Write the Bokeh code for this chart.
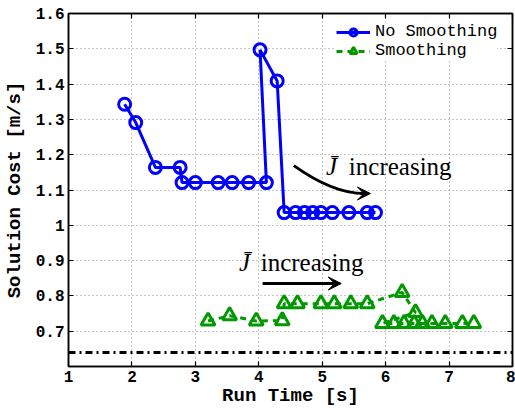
from bokeh.plotting import figure
from bokeh.models import (ColumnDataSource, LinearAxis, FixedTicker, CustomJSTickFormatter,
                          Arrow, VeeHead, Range1d, CustomLabelingPolicy)
from bokeh.core.properties import value
from bokeh.embed import file_html
from bokeh.resources import INLINE

# ---- data ----
nosmooth_time = [1.885, 2.06, 2.37, 2.76, 2.79, 3.00, 3.36, 3.58, 3.84, 4.12,
                 4.02, 4.29, 4.40, 4.58, 4.72, 4.85, 4.98, 5.16, 5.42, 5.71, 5.84]
nosmooth_cost = [1.343, 1.291, 1.164, 1.164, 1.121, 1.121, 1.121, 1.121, 1.121, 1.121,
                 1.497, 1.409, 1.036, 1.036, 1.036, 1.036, 1.036, 1.036, 1.036, 1.036, 1.036]

smooth_time = [3.20, 3.54, 3.96, 4.37, 4.40, 4.61, 4.98, 5.19, 5.45, 5.71,
               6.26, 6.47, 5.95, 6.13, 6.29, 6.45, 6.58, 6.73, 6.94, 7.21, 7.39]
smooth_cost = [0.729, 0.744, 0.729, 0.730, 0.778, 0.778, 0.778, 0.778, 0.778, 0.778,
               0.810, 0.753, 0.722, 0.722, 0.722, 0.722, 0.722, 0.722, 0.722, 0.722, 0.722]

optimal_time = [1.0, 8.0]
optimal_cost = [0.64, 0.64]

x_ticks = [1, 2, 3, 4, 5, 6, 7, 8]
y_ticks = [0.6, 0.7, 0.8, 0.9, 1.0, 1.1, 1.2, 1.3, 1.4, 1.5, 1.6]

series_labels = ["No Smoothing", "Smoothing"]
axis_labels = ["Run Time [s]", "Solution Cost [m/s]"]
annotation_texts = ["J\u0304", "increasing"]

BLUE = "#0000ff"
GREEN = "#009900"
MONO = "Liberation Mono"
SERIF = "Liberation Serif"

p = figure(width=515, height=409, output_backend="svg", toolbar_location=None,
           x_range=Range1d(1, 8), y_range=Range1d(0.6, 1.6),
           min_border_left=67, min_border_right=3, min_border_top=13, min_border_bottom=43,
           background_fill_color="white", border_fill_color="white")

p.outline_line_color = "black"
p.outline_line_width = 1.5

# axes
for ax in (p.xaxis[0], p.yaxis[0]):
    ax.major_label_text_font = MONO
    ax.major_label_text_font_style = "bold"
    ax.major_label_text_font_size = "16px"
    ax.major_label_text_color = "black"
    ax.axis_label_text_font = MONO
    ax.axis_label_text_font_style = "bold"
    ax.axis_label_text_font_size = "19px"
    ax.axis_label_text_color = "black"
    ax.axis_line_color = "black"
    ax.axis_line_width = 1.5
    ax.major_tick_in = 5
    ax.major_tick_out = 0
    ax.major_tick_line_width = 1.2
    ax.minor_tick_line_color = None
    ax.major_label_standoff = 4

p.xaxis[0].ticker = FixedTicker(ticks=x_ticks)
p.yaxis[0].ticker = FixedTicker(ticks=y_ticks)
p.yaxis[0].formatter = CustomJSTickFormatter(code="""
    if (tick < 0.65) return '';
    if (Math.abs(tick - 1) < 1e-6) return '1';
    return tick.toFixed(1);
""")
p.xaxis[0].axis_label = axis_labels[0]
p.yaxis[0].axis_label = axis_labels[1]
p.xaxis[0].axis_label_standoff = 0
p.yaxis[0].axis_label_standoff = 7

# box ticks on top and right (no labels)
for side, ticks in (("right", y_ticks), ("above", x_ticks)):
    ax = LinearAxis(ticker=FixedTicker(ticks=ticks), major_label_text_font_size="0px",
                    major_label_policy=CustomLabelingPolicy(code="return new Set()"),
                    major_label_standoff=0, major_tick_in=5, major_tick_out=0,
                    major_tick_line_width=1.2, minor_tick_line_color=None,
                    axis_line_color="black", axis_line_width=1.5)
    p.add_layout(ax, side)

# grid
p.xgrid.ticker = FixedTicker(ticks=x_ticks)
p.ygrid.ticker = FixedTicker(ticks=y_ticks)
for g in (p.xgrid[0], p.ygrid[0]):
    g.grid_line_color = "#8c8c8c"
    g.grid_line_dash = "1 3"
    g.grid_line_width = 1

# optimal cost reference line
p.line(optimal_time, optimal_cost, line_color="black", line_width=3, line_dash="7 4 2 4")

# series
src_ns = ColumnDataSource(dict(t=nosmooth_time, c=nosmooth_cost))
src_s = ColumnDataSource(dict(t=smooth_time, c=smooth_cost))

p.line("t", "c", source=src_ns, line_color=BLUE, line_width=3, legend_label=series_labels[0])
p.scatter("t", "c", source=src_ns, marker="circle", size=12, line_color=BLUE, line_width=3,
          fill_alpha=0, legend_label=series_labels[0])

p.line("t", "c", source=src_s, line_color=GREEN, line_width=3, line_dash="6 5",
       legend_label=series_labels[1])
p.scatter("t", "c", source=src_s, marker="triangle", size=14, line_color=GREEN, line_width=3,
          fill_alpha=0, legend_label=series_labels[1])

# annotations: upper (curved arrow) and lower (straight arrow)
p.text(x=[5.06, 3.69], y=[1.166, 0.894], text=[annotation_texts[0]] * 2,
       text_font=value(SERIF), text_font_style="italic", text_font_size="25px",
       text_color="black", text_baseline="alphabetic", text_align="left")
p.text(x=[5.42, 4.03], y=[1.166, 0.894], text=[annotation_texts[1]] * 2,
       text_font=value(SERIF), text_font_size="25px",
       text_color="black", text_baseline="alphabetic", text_align="left")

p.quadratic(x0=[4.553], y0=[1.169], x1=[5.66], y1=[1.090], cx=[5.17], cy=[1.090],
            line_color="black", line_width=3)
p.add_layout(Arrow(x_start=5.60, y_start=1.090, x_end=5.76, y_end=1.090,
                   line_color="black", line_width=3,
                   end=VeeHead(size=13, fill_color="black", line_color="black", line_width=1)))
p.add_layout(Arrow(x_start=4.06, y_start=0.835, x_end=5.30, y_end=0.835,
                   line_color="black", line_width=3,
                   end=VeeHead(size=13, fill_color="black", line_color="black", line_width=1)))

# legend
lg = p.legend[0]
lg.location = (268, 306)
lg.margin = 0
lg.padding = 5
lg.spacing = 0
lg.glyph_width = 34
lg.glyph_height = 18
lg.label_height = 18
lg.label_standoff = 5
lg.label_text_font = MONO
lg.label_text_font_size = "17px"
lg.label_text_color = "black"
lg.border_line_color = None
lg.background_fill_color = "white"
lg.background_fill_alpha = 1.0

open("out.html", "w").write(file_html(p, INLINE))
